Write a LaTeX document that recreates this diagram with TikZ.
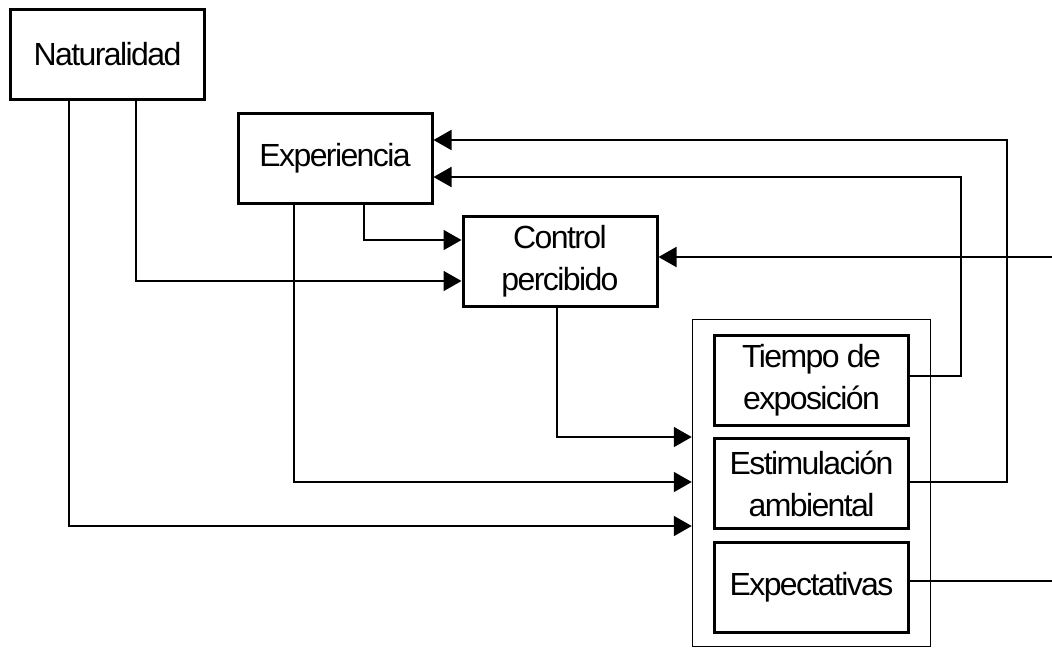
\documentclass[tikz,border=0pt]{standalone}
\usepackage{fontspec}
\setmainfont{Liberation Sans}[LetterSpace=-5]
\usetikzlibrary{arrows.meta}
\begin{document}
\begin{tikzpicture}[x=1pt,y=-1pt,
  every node/.style={font=\fontsize{32}{42}\selectfont},
  factor/.style={draw, line width=3pt, rectangle, inner sep=0pt, align=center,
                 minimum width=194pt, minimum height=90pt},
  group/.style={draw, line width=1.5pt, rectangle, inner sep=0pt,
                minimum width=238pt, minimum height=327pt},
  conn/.style={line width=1.8pt, line join=miter},
  link/.style={conn, -{Triangle[length=18pt,width=20pt]}}]
\useasboundingbox (0,0) rectangle (1052,649);

% boxes
\node[factor] (nat) at (107.5,54) {Naturalidad};
\node[factor] (exp) at (335,158.5) {Experiencia};
\node[factor] (ctl) at (560,261.5) {Control\\percibido};
\node[group]  (grp) at (811.5,483) {};
\node[factor] (tie) at (811.5,380) {Tiempo de\\exposición};
\node[factor] (est) at (811.5,483.5) {Estimulación\\ambiental};
\node[factor] (xpc) at (811.5,587) {Expectativas};

% free ends at the right margin
\coordinate (rin)  at (1052,257);
\coordinate (rout) at (1052,581);

% influences into the situational group
\draw[link] ([xshift=-38.5pt]nat.south) |- ([yshift=-43pt]grp.west);
\draw[link] ([xshift=-41pt]exp.south)   |- ([yshift=1pt]grp.west);
\draw[link] ([xshift=-3pt]ctl.south)    |- ([yshift=46pt]grp.west);

% influences into perceived control
\draw[link] ([xshift=28.5pt]nat.south) |- ([yshift=-19.5pt]ctl.west);
\draw[link] ([xshift=29pt]exp.south)   |- ([yshift=21.5pt]ctl.west);
\draw[link] (rin) -- (ctl.east |- rin);

% feedback into experience
\draw[link] ([yshift=4pt]tie.east) -- ++(51,0) |- ([yshift=-18.5pt]exp.east);
\draw[link] ([yshift=1.5pt]est.east) -- ++(97,0) |- ([yshift=18.5pt]exp.east);

% expectations leaving to the right
\draw[conn] (xpc.east |- rout) -- (rout);
\end{tikzpicture}
\end{document}
